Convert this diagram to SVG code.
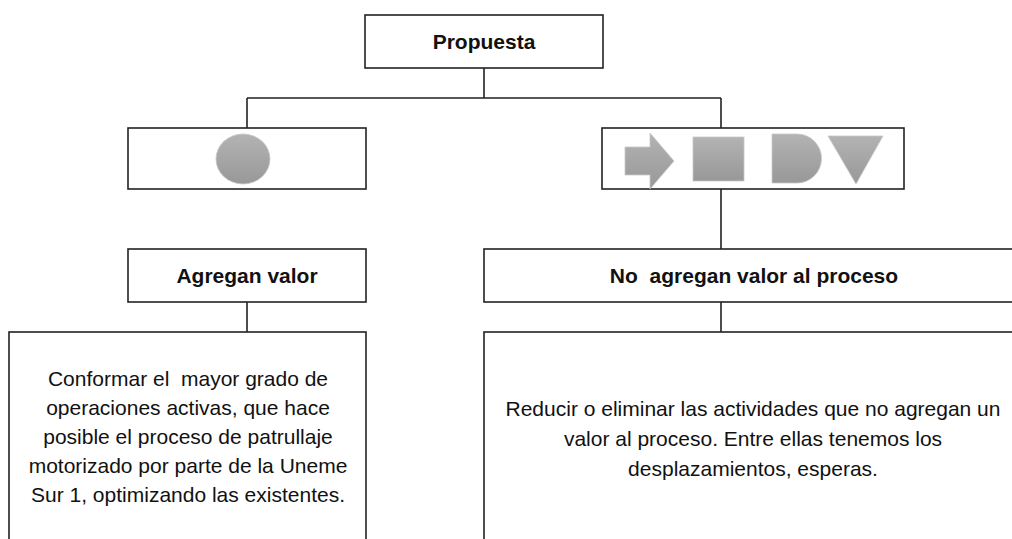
<svg xmlns="http://www.w3.org/2000/svg" width="1012" height="539" viewBox="0 0 1012 539">
<style>
.box{fill:#fff;stroke:#222;stroke-width:1.6}
.ln{fill:none;stroke:#222;stroke-width:1.6}
.t{font-family:"Liberation Sans",Arial,sans-serif;font-size:21px;fill:#111;text-anchor:middle}
.b{font-weight:bold}
.sh{fill:url(#g);stroke:#c8c8c8;stroke-width:0.8}
</style>
<defs>
<linearGradient id="g" x1="0" y1="0" x2="0" y2="1">
<stop offset="0" stop-color="#b3b3b3"/>
<stop offset="1" stop-color="#989898"/>
</linearGradient>
</defs>
<rect width="1012" height="539" fill="#fff"/>
<g id="connectors">
<path class="ln" d="M484 68V98M247 98H721M247 98V128M721 98V128M721 189V250M247 302V332M721 302V332"/>
</g>
<g id="propuesta">
<rect class="box" x="365" y="15" width="238" height="53"/>
<text class="t b" x="484" y="49">Propuesta</text>
</g>
<g id="iconos-valor">
<rect class="box" x="128" y="128" width="238" height="61"/>
<ellipse class="sh" cx="243" cy="159" rx="27" ry="25"/>
</g>
<g id="iconos-no-valor">
<rect class="box" x="602" y="128" width="302" height="61"/>
<polygon class="sh" points="625,147 650,147 650,133 674,161 650,189 650,175 625,175"/>
<rect class="sh" x="693" y="137" width="51" height="44"/>
<path class="sh" d="M772 134H797A24.5 24.5 0 0 1 797 183H772Z"/>
<polygon class="sh" points="828,136 883,136 856,184"/>
</g>
<g id="agregan-valor">
<rect class="box" x="128" y="249" width="238" height="53"/>
<text class="t b" x="247" y="283">Agregan valor</text>
</g>
<g id="no-agregan-valor">
<rect class="box" x="484" y="249" width="540" height="53"/>
<text class="t b" x="754" y="283" xml:space="preserve">No  agregan valor al proceso</text>
</g>
<g id="desc-valor">
<rect class="box" x="9" y="332" width="357" height="230"/>
<text class="t" x="188" xml:space="preserve"><tspan x="188" y="386">Conformar el  mayor grado de</tspan><tspan x="188" y="415">operaciones activas, que hace</tspan><tspan x="188" y="444">posible el proceso de patrullaje</tspan><tspan x="188" y="473">motorizado por parte de la Uneme</tspan><tspan x="188" y="502">Sur 1, optimizando las existentes.</tspan></text>
</g>
<g id="desc-no-valor">
<rect class="box" x="484" y="332" width="540" height="230"/>
<text class="t"><tspan x="753" y="416">Reducir o eliminar las actividades que no agregan un</tspan><tspan x="753" y="446">valor al proceso. Entre ellas tenemos los</tspan><tspan x="753" y="476">desplazamientos, esperas.</tspan></text>
</g>
</svg>
